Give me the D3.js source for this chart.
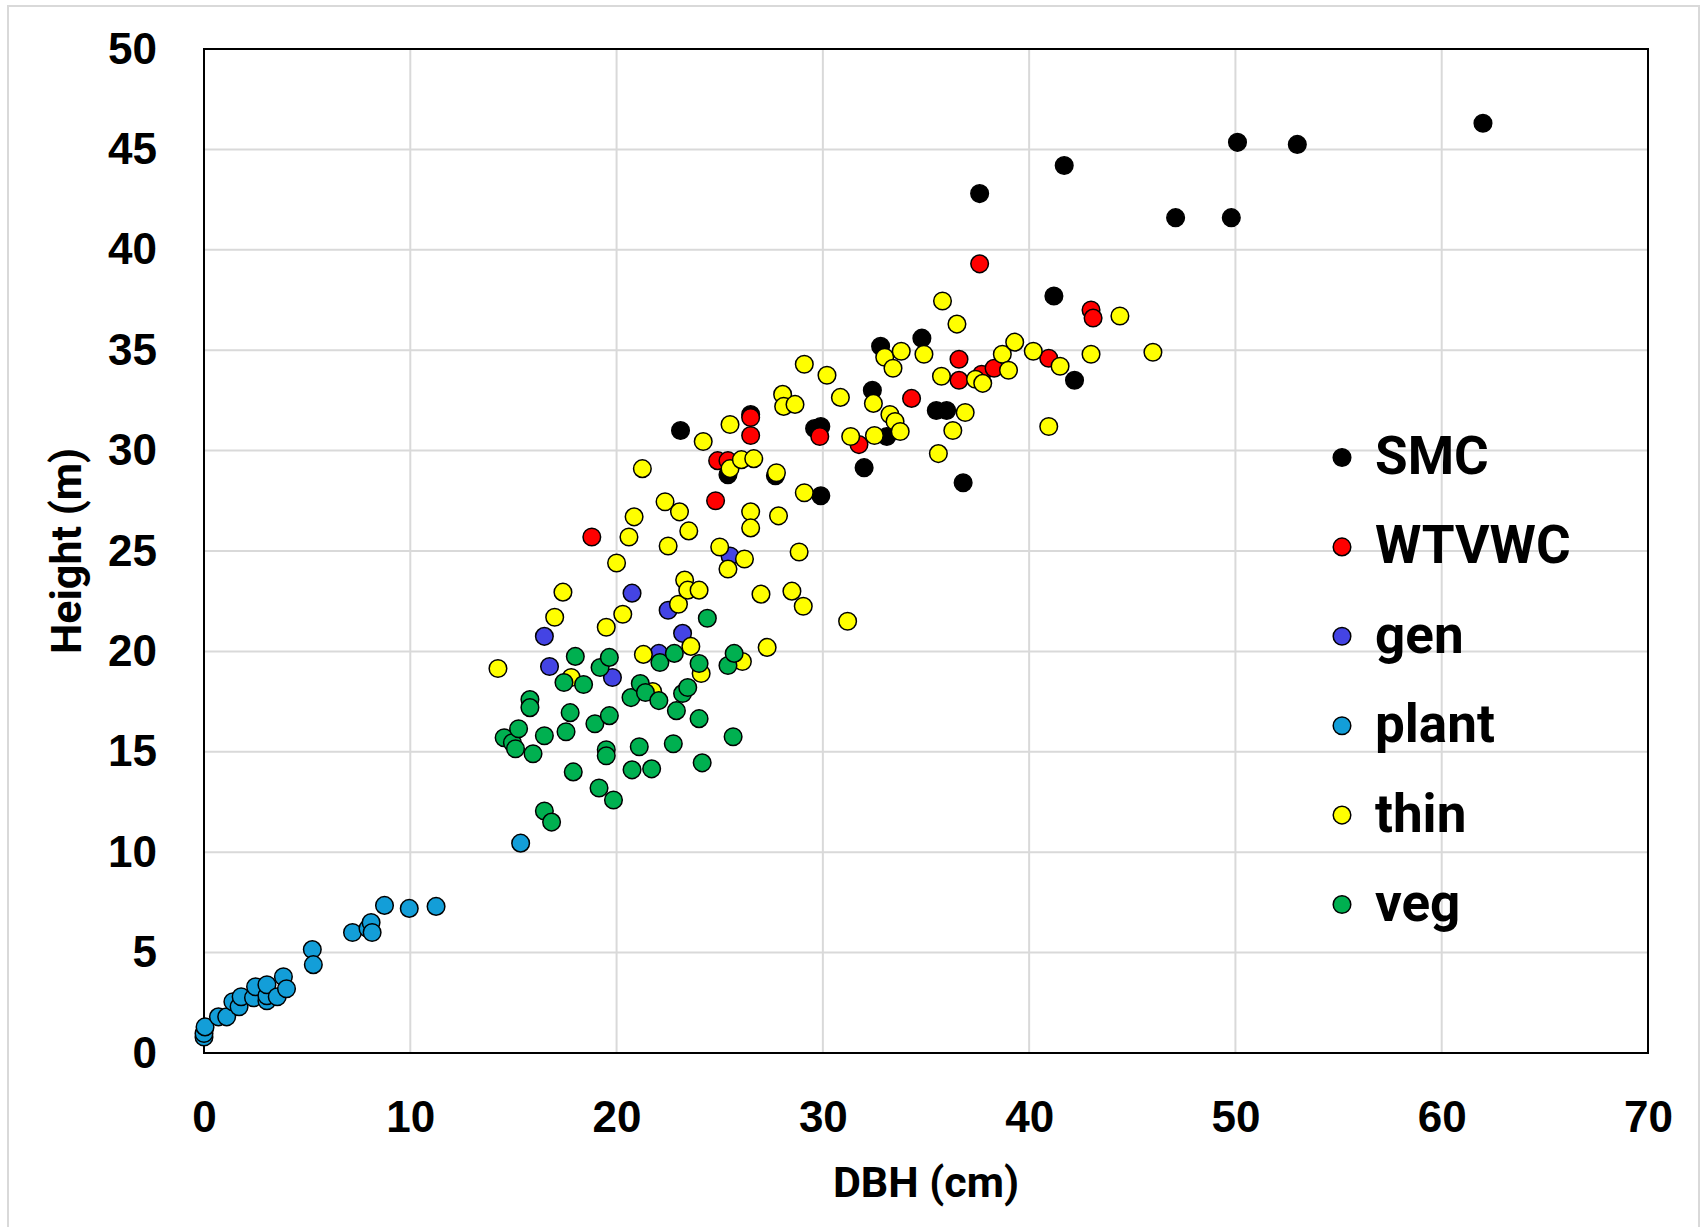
<!DOCTYPE html>
<html>
<head>
<meta charset="utf-8">
<script src="https://cdn.jsdelivr.net/npm/d3@7/dist/d3.min.js"></script>
<style>
  html, body { margin: 0; padding: 0; background: #ffffff; }
  svg { display: block; }
</style>
</head>
<body>
<svg id="chart" width="1702" height="1227"></svg>
<script>
// Tree height vs. diameter at breast height, by stand treatment

const seriesNames = ["SMC", "WTVWC", "gen", "plant", "thin", "veg"];
const seriesColors = ["#000000", "#FF0000", "#4444E4", "#139ED8", "#FFFF00", "#00B050"];

const xTicks = [0, 10, 20, 30, 40, 50, 60, 70];
const yTicks = [0, 5, 10, 15, 20, 25, 30, 35, 40, 45, 50];

// SMC
const smcDbh    = [23.1, 25.4, 26.5, 27.7, 29.6, 29.9, 29.9, 32.0, 32.4, 32.8, 33.1, 34.8, 35.5, 36.0, 36.8, 37.6, 41.2, 41.7, 42.2, 47.1, 49.8, 50.1, 53.0, 62.0];
const smcHeight = [31.0, 28.8, 31.8, 28.75, 31.1, 31.2, 27.75, 29.15, 33.0, 35.2, 30.7, 35.6, 32.0, 32.0, 28.4, 42.8, 37.7, 44.2, 33.5, 41.6, 41.6, 45.35, 45.25, 46.3];

// WTVWC
const wtvDbh    = [18.8, 24.8, 24.9, 25.4, 26.5, 26.5, 29.85, 31.75, 34.3, 36.6, 36.6, 37.7, 38.3, 37.6, 40.95, 43.0, 43.1];
const wtvHeight = [25.7, 27.5, 29.5, 29.5, 31.65, 30.75, 30.7, 30.3, 32.6, 34.55, 33.5, 33.8, 34.1, 39.3, 34.6, 37.0, 36.6];

// gen
const genDbh    = [16.5, 16.75, 19.8, 20.75, 22.05, 22.5, 23.2, 25.5];
const genHeight = [20.75, 19.25, 18.7, 22.9, 19.9, 22.05, 20.9, 24.75];

// plant
const plantDbh    = [0.0, 0.0, 0.05, 0.7, 1.1, 1.4, 1.7, 1.8, 2.4, 2.5, 3.05, 3.05, 3.05, 3.55, 3.85, 4.0, 5.25, 5.3, 7.2, 7.95, 8.1, 8.15, 8.75, 9.95, 11.25, 15.35];
const plantHeight = [0.8, 0.97, 1.3, 1.8, 1.8, 2.55, 2.3, 2.8, 2.75, 3.3, 2.6, 2.85, 3.4, 2.8, 3.8, 3.2, 5.15, 4.4, 6.0, 6.2, 6.5, 6.0, 7.35, 7.2, 7.3, 10.45];

// thin
const thinDbh = [14.25, 17.0, 17.4, 17.8, 19.5, 20.0, 20.3, 20.6, 20.85, 21.25, 21.3, 21.75, 22.35, 22.5, 23.0, 23.05, 23.3, 23.45, 24.0, 23.6,
                 23.5, 24.1, 24.2, 25.0, 25.4, 25.5, 25.5, 26.05, 26.2, 26.1, 26.5, 26.5, 26.65, 27.0, 27.3, 27.75, 27.85, 28.05, 28.1, 28.65,
                 28.5, 28.85, 29.05, 29.1, 29.1, 30.2, 30.85, 31.2, 31.35, 32.45, 32.5, 33.0, 33.25, 33.4, 33.5, 33.75, 33.8, 34.9, 35.6, 35.75,
                 35.8, 36.3, 36.5, 36.9, 37.4, 37.75, 38.7, 39.0, 39.3, 40.2, 40.95, 41.5, 43.0, 44.4, 46.0];
const thinHeight = [19.15, 21.7, 22.95, 18.7, 21.2, 24.4, 21.85, 25.7, 26.7, 29.1, 19.85, 18.0, 27.45, 25.25, 22.35, 26.95, 23.55, 23.05, 23.05, 20.25,
                    26.0, 18.9, 30.45, 25.2, 24.1, 31.3, 29.1, 29.55, 24.6, 19.5, 26.95, 26.15, 29.6, 22.85, 20.2, 28.9, 26.75, 32.8, 32.2, 32.3,
                    23.0, 24.95, 22.25, 27.9, 34.3, 33.75, 32.65, 21.5, 30.7, 32.35, 30.75, 34.65, 31.8, 34.1, 31.45, 30.95, 34.95, 34.8, 29.85, 33.7,
                    37.45, 31.0, 36.3, 31.9, 33.55, 33.35, 34.8, 34.0, 35.4, 34.95, 31.2, 34.2, 34.8, 36.7, 34.9];

// veg
const vegDbh = [15.8, 15.8, 14.55, 14.95, 15.1, 15.25, 15.95, 16.5, 16.5, 16.85, 17.45, 17.55, 17.75, 17.9, 18.0, 18.4, 18.95, 19.15, 19.2, 19.5,
                19.5, 19.65, 19.65, 19.85, 20.7, 20.75, 21.1, 21.15, 21.4, 21.7, 22.05, 22.1, 22.75, 22.8, 22.9, 23.2, 23.45, 24.0, 24.0, 24.15,
                24.4, 25.4, 25.65, 25.7];
const vegHeight = [17.6, 17.2, 15.7, 15.45, 15.15, 16.15, 14.9, 15.8, 12.05, 11.5, 18.45, 16.0, 16.95, 14.0, 19.75, 18.35, 16.4, 13.2, 19.2, 15.1,
                   14.8, 19.7, 16.8, 12.6, 17.7, 14.1, 15.25, 18.4, 17.95, 14.15, 17.55, 19.45, 15.4, 19.9, 17.05, 17.9, 18.2, 19.4, 16.65, 14.45,
                   21.65, 19.3, 15.75, 19.9];

const seriesX = [smcDbh, wtvDbh, genDbh, plantDbh, thinDbh, vegDbh];
const seriesY = [smcHeight, wtvHeight, genHeight, plantHeight, thinHeight, vegHeight];

const series = seriesNames.map((name, i) => ({
  name,
  color: seriesColors[i],
  points: seriesX[i].map((x, j) => ({ x, y: seriesY[i][j] }))
}));

// Layout
const plot = { left: 204, right: 1648, top: 49, bottom: 1053 };
const svg = d3.select("#chart");

// Outer chart-area frame
svg.append("rect")
  .attr("x", 8).attr("y", 6)
  .attr("width", 1691).attr("height", 1240)
  .attr("fill", "#ffffff")
  .attr("stroke", "#D9D9D9").attr("stroke-width", 2);

const x = d3.scaleLinear().domain([0, 70]).range([plot.left, plot.right]);
const y = d3.scaleLinear().domain([0, 50]).range([plot.bottom, plot.top]);

// Gridlines
const grid = svg.append("g").attr("stroke", "#D9D9D9").attr("stroke-width", 2);
grid.selectAll("line.gx")
  .data(xTicks.filter(t => t > 0 && t < 70))
  .join("line")
  .attr("x1", d => x(d)).attr("x2", d => x(d))
  .attr("y1", plot.top).attr("y2", plot.bottom);
grid.selectAll("line.gy")
  .data(yTicks.filter(t => t > 0 && t < 50))
  .join("line")
  .attr("x1", plot.left).attr("x2", plot.right)
  .attr("y1", d => y(d)).attr("y2", d => y(d));

// Axes (labels only; plot border drawn as a rectangle)
const tickFont = "'Liberation Sans', Arial, sans-serif";
const xAxis = svg.append("g")
  .attr("transform", `translate(0,${plot.bottom})`)
  .call(d3.axisBottom(x).tickValues(xTicks).tickSize(0).tickPadding(48));
const yAxis = svg.append("g")
  .attr("transform", `translate(${plot.left},0)`)
  .call(d3.axisLeft(y).tickValues(yTicks).tickSize(0).tickPadding(47));
[xAxis, yAxis].forEach(a => {
  a.select(".domain").remove();
  a.selectAll("text")
    .attr("font-family", tickFont)
    .attr("font-weight", "bold")
    .attr("font-size", 44)
    .attr("fill", "#000000");
});

// Plot border
svg.append("rect")
  .attr("x", plot.left).attr("y", plot.top)
  .attr("width", plot.right - plot.left).attr("height", plot.bottom - plot.top)
  .attr("fill", "none").attr("stroke", "#000000").attr("stroke-width", 2);

// Points, drawn in series order so later series sit on top
const markerR = 8.8;
series.forEach(s => {
  svg.append("g")
    .selectAll("circle")
    .data(s.points)
    .join("circle")
    .attr("cx", d => x(d.x))
    .attr("cy", d => y(d.y))
    .attr("r", markerR)
    .attr("fill", s.color)
    .attr("stroke", "#000000")
    .attr("stroke-width", 1.5);
});

// Axis titles
const titleFont = "Roboto, 'Noto Sans', sans-serif";
svg.append("text")
  .attr("x", (plot.left + plot.right) / 2)
  .attr("y", 1197)
  .attr("text-anchor", "middle")
  .attr("font-family", titleFont).attr("font-weight", "bold").attr("font-size", 43)
  .text("DBH (cm)");
svg.append("text")
  .attr("transform", `translate(81,${(plot.top + plot.bottom) / 2}) rotate(-90)`)
  .attr("text-anchor", "middle")
  .attr("font-family", titleFont).attr("font-weight", "bold").attr("font-size", 43)
  .text("Height (m)");

// Legend
const legend = svg.append("g").attr("transform", "translate(1342,457.5)");
const entry = legend.selectAll("g")
  .data(series)
  .join("g")
  .attr("transform", (d, i) => `translate(0,${i * 89.4})`);
entry.append("circle")
  .attr("r", markerR)
  .attr("fill", d => d.color)
  .attr("stroke", "#000000")
  .attr("stroke-width", 1.5);
entry.append("text")
  .attr("x", 33)
  .attr("y", 16.5)
  .attr("font-family", titleFont).attr("font-weight", "bold").attr("font-size", 53)
  .text(d => d.name);
</script>
</body>
</html>
